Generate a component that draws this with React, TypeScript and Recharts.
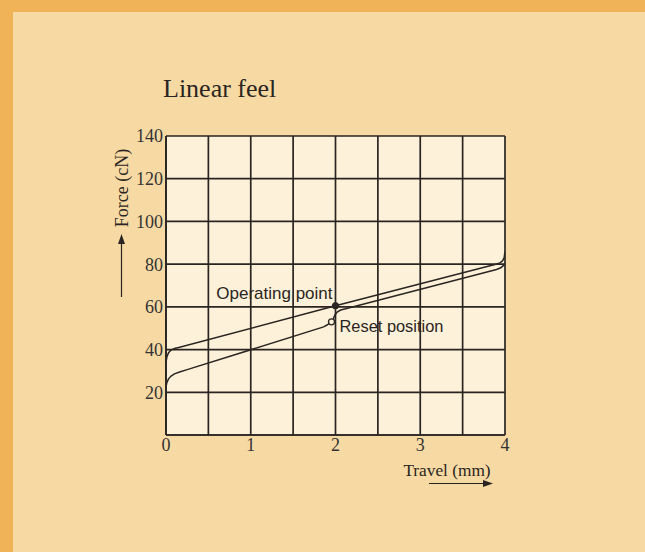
import { ComposedChart, Line, XAxis, YAxis, CartesianGrid, ReferenceDot } from "recharts";

const travelTicks = [0, 0.5, 1, 1.5, 2, 2.5, 3, 3.5, 4];
const forceTicks = [0, 20, 40, 60, 80, 100, 120, 140];

// key press: travel (mm) vs force (cN)
const pressTravel = [0, 0.01, 0.03, 0.06, 0.1, 0.15, 2, 3.88, 3.94, 3.97, 3.99, 4];
const pressForce = [34, 36.5, 38.5, 39.8, 40.5, 41, 60.5, 79.8, 80.6, 81.5, 83, 86];

// key release, back down to the reset point and on
const releaseTravel = [
  0, 0.01, 0.03, 0.06, 0.1, 0.16, 0.25, 1.86, 1.9, 1.953, 1.975, 1.995, 2.02, 2.06, 2.12, 3.9, 3.95, 3.98, 4,
];
const releaseForce = [
  22.5, 24.5, 26.3, 27.6, 28.6, 29.5, 30.6, 50.6, 51.5, 53, 54.5, 56.3, 57.6, 58.5, 59.1, 77.5, 78.3, 79.3, 80.5,
];

const operatingPoint = { travel: 2, force: 60.5 };
const resetPoint = { travel: 1.953, force: 53 };

const pressData = pressTravel.map((t, i) => ({ travel: t, force: pressForce[i] }));
const releaseData = releaseTravel.map((t, i) => ({ travel: t, force: releaseForce[i] }));

const INK = "#2a2522";
const ORANGE = "#F0B357";
const PAPER = "#F7DAA3";
const PLOT = "#FDF1D9";
const SERIF = "'Liberation Serif', serif";
const SANS = "'Liberation Sans', sans-serif";

export default function App() {
  return (
    <div style={{ position: "fixed", left: 0, top: 0, width: 645, height: 552, background: ORANGE }}>
      <div style={{ position: "absolute", left: 13, top: 12, right: 0, bottom: 0, background: PAPER }} />
      <div style={{ position: "absolute", left: 0, top: 0 }}>
        <ComposedChart width={645} height={552} margin={{ top: 136, right: 140, bottom: 87, left: 106 }}>
          <CartesianGrid fill={PLOT} fillOpacity={1} stroke={INK} strokeWidth={1.7} />
          <XAxis
            type="number"
            dataKey="travel"
            domain={[0, 4]}
            ticks={travelTicks}
            tickFormatter={(v: number) => (Number.isInteger(v) ? String(v) : "")}
            tickLine={false}
            tickSize={0}
            tickMargin={3}
            height={30}
            axisLine={{ stroke: INK, strokeWidth: 1.7 }}
            tick={{ fill: "#333", fontSize: 18, fontFamily: SERIF }}
            allowDataOverflow
          />
          <YAxis
            type="number"
            dataKey="force"
            domain={[0, 140]}
            ticks={forceTicks}
            tickFormatter={(v: number) => (v === 0 ? "" : String(v))}
            tickLine={false}
            tickSize={0}
            tickMargin={3}
            width={60}
            axisLine={{ stroke: INK, strokeWidth: 1.7 }}
            tick={{ fill: "#333", fontSize: 18, fontFamily: SERIF }}
            allowDataOverflow
          />
          <Line data={pressData} dataKey="force" type="linear" stroke={INK} strokeWidth={1.5} dot={false} isAnimationActive={false} />
          <Line data={releaseData} dataKey="force" type="linear" stroke={INK} strokeWidth={1.5} dot={false} isAnimationActive={false} />
          <ReferenceDot
            x={operatingPoint.travel}
            y={operatingPoint.force}
            r={3.2}
            fill={INK}
            stroke={INK}
            label={{
              content: (p: any) => {
                const vb = p.viewBox;
                const cx = vb.x + vb.width / 2;
                const cy = vb.y + vb.height / 2;
                return (
                  <text x={cx - 3} y={cy - 7} textAnchor="end" fontSize={17} fontFamily={SANS} fill={INK}>
                    Operating point
                  </text>
                );
              },
            }}
          />
          <ReferenceDot
            x={resetPoint.travel}
            y={resetPoint.force}
            r={3}
            fill={PLOT}
            stroke={INK}
            strokeWidth={1.3}
            label={{
              content: (p: any) => {
                const vb = p.viewBox;
                const cx = vb.x + vb.width / 2;
                const cy = vb.y + vb.height / 2;
                return (
                  <text x={cx + 8} y={cy + 10} textAnchor="start" fontSize={16.4} fontFamily={SANS} fill={INK}>
                    Reset position
                  </text>
                );
              },
            }}
          />
        </ComposedChart>
      </div>
      <svg width={645} height={552} style={{ position: "absolute", left: 0, top: 0, pointerEvents: "none" }}>
        <text x={163} y={97} fontSize={26} fontFamily={SERIF} fill={INK}>
          Linear feel
        </text>
        <text
          x={0}
          y={0}
          transform="translate(128 188) rotate(-90)"
          textAnchor="middle"
          fontSize={18}
          fontFamily={SERIF}
          fill={INK}
        >
          Force (cN)
        </text>
        <line x1={121.5} y1={297} x2={121.5} y2={242} stroke={INK} strokeWidth={1.2} />
        <polygon points="121.5,234 118,244 125,244" fill={INK} />
        <text x={447} y={476} textAnchor="middle" fontSize={17.3} fontFamily={SERIF} fill={INK}>
          Travel (mm)
        </text>
        <line x1={429} y1={483.5} x2={484} y2={483.5} stroke={INK} strokeWidth={1.2} />
        <polygon points="493,483.5 483,480 483,487" fill={INK} />
      </svg>
    </div>
  );
}
